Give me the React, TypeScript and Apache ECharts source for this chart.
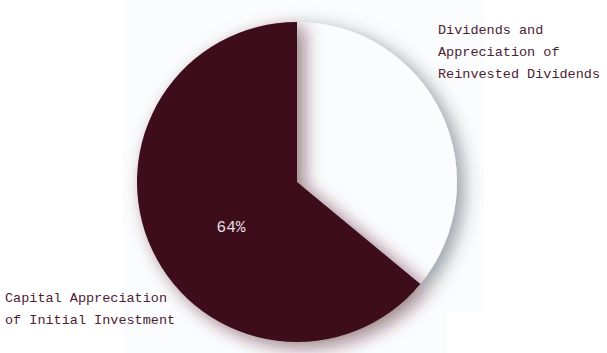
import React, { useEffect, useRef } from "react";
import * as echarts from "echarts";

const categories = [
  "Dividends and Appreciation of Reinvested Dividends",
  "Capital Appreciation of Initial Investment",
];
const labelLines = [
  ["Dividends and", "Appreciation of", "Reinvested Dividends"],
  ["Capital Appreciation", "of Initial Investment"],
];
const values = [36, 64];
const colors = ["#fbfcfd", "#3e0a1b"];

export default function App() {
  const ref = useRef<HTMLDivElement>(null);
  useEffect(() => {
    if (!ref.current) return;
    const chart = echarts.init(ref.current, undefined, { renderer: "svg" });
    const font = "'Liberation Mono', 'Courier New', monospace";
    chart.setOption({
      animation: false,
      backgroundColor: "#ffffff",
      textStyle: { fontFamily: font },
      graphic: [
        { type: "rect", z: -10, silent: true, shape: { x: 123, y: 0, width: 361, height: 311 }, style: { fill: "#fbfcfd" } },
        { type: "rect", z: -10, silent: true, shape: { x: 123, y: 311, width: 324, height: 42 }, style: { fill: "#fbfcfd" } },
      ],
      series: [
        {
          type: "pie",
          center: [297, 182],
          radius: 160,
          startAngle: 90,
          clockwise: true,
          silent: true,
          data: categories.map((name, i) => ({
            name,
            value: values[i],
            itemStyle: {
              color: colors[i],
              shadowColor: i === 1 ? "rgba(70,15,35,0.55)" : "rgba(50,65,80,0.5)",
              shadowBlur: 18,
              shadowOffsetX: 7,
              shadowOffsetY: 5,
            },
          })),
          label: {
            show: true,
            position: "outside",
            formatter: (p: any) => labelLines[p.dataIndex].join("\n"),
            fontFamily: font,
            fontSize: 13.5,
            lineHeight: 22,
            color: "#4b2233",
            overflow: "none",
            width: 400,
          },
          labelLine: { show: false },
          labelLayout: (p: any) =>
            p.dataIndex === 0
              ? { x: 438, y: 19, align: "left", verticalAlign: "top" }
              : { x: 5, y: 287, align: "left", verticalAlign: "top" },
        },
        {
          type: "pie",
          center: [297, 182],
          radius: 160,
          startAngle: 90,
          clockwise: true,
          silent: true,
          z: 3,
          label: {
            show: true,
            position: "inside",
            formatter: "{p|{d}%}",
            rich: {
              p: { fontFamily: font, fontSize: 16, color: "#e6dde0" },
            },
          },
          data: categories.map((name, i) => ({
            name,
            value: values[i],
            itemStyle: { color: "rgba(0,0,0,0)" },
            label: { show: i === 1 },
          })),
          labelLine: { show: false },
          labelLayout: () => ({ x: 231, y: 228, align: "center", verticalAlign: "middle" }),
        },
      ],
    });
    return () => chart.dispose();
  }, []);
  return (
    <div
      ref={ref}
      style={{ position: "fixed", left: 0, top: 0, width: 607, height: 353 }}
    />
  );
}
